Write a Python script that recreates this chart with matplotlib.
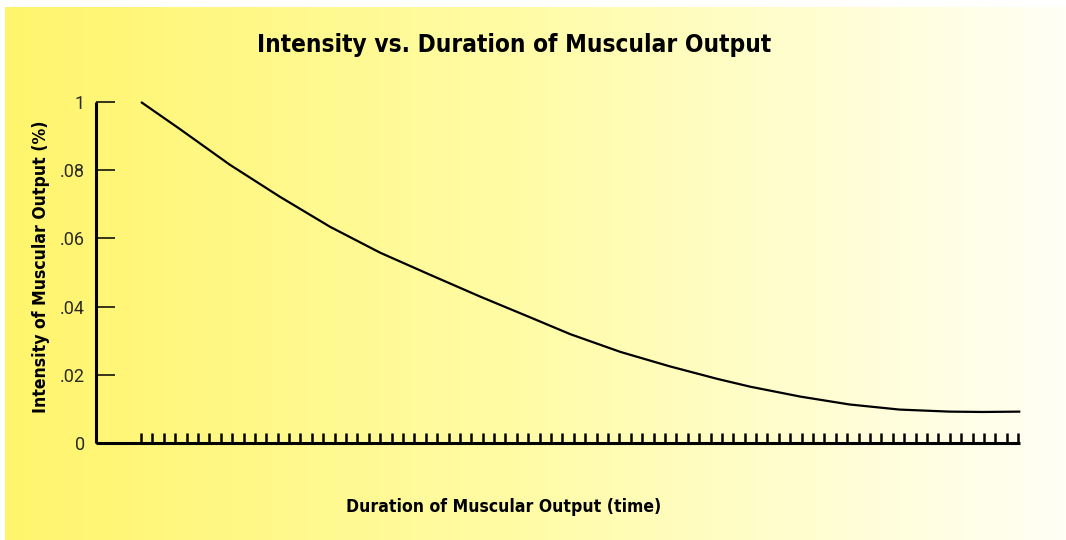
import numpy as np
import matplotlib
matplotlib.use("Agg")
import matplotlib.pyplot as plt
from matplotlib import font_manager
from matplotlib.colors import LinearSegmentedColormap

# curve (time in tick units, intensity)
time = [0, 3.4, 7.8, 12.2, 16.6, 21.0, 25.4, 29.8, 34.2, 37.7, 42.1,
        46.4, 50.6, 53.5, 57.9, 62.2, 66.6, 71.0, 73.9, 77.2]
intensity = [0.100, 0.0921, 0.0816, 0.0722, 0.0634, 0.0558, 0.0493, 0.0429,
             0.0368, 0.0319, 0.0267, 0.0225, 0.0188, 0.0165, 0.0136, 0.0113,
             0.0098, 0.0092, 0.0091, 0.0092]

y_ticks = [0, 0.02, 0.04, 0.06, 0.08, 0.10]
y_tick_labels = ["0", ".02", ".04", ".06", ".08", "1"]
n_time_ticks = 78

title = "Intensity vs. Duration of Muscular Output"
xlabel = "Duration of Muscular Output (time)"
ylabel = "Intensity of Muscular Output (%)"

# narrow bold font if one is there
fp = font_manager.FontProperties(family="DejaVu Sans", stretch="condensed", weight="bold")
if "Condensed" in font_manager.findfont(fp, fallback_to_default=False):
    head = dict(family="DejaVu Sans", fontstretch="condensed", fontweight="bold")
    scale = 1.0
else:
    head = dict(family="Roboto", fontweight="bold")
    scale = 0.92
plt.rcParams['font.family'] = ['Roboto', 'DejaVu Sans']

fig = plt.figure(figsize=(10.66, 5.4), dpi=100)
fig.patch.set_facecolor("white")

# yellow-to-white background
bg = fig.add_axes([5 / 1066, 0, 1 - 5 / 1066, 1 - 7 / 540])
cmap = LinearSegmentedColormap.from_list("bg", ["#fff56c", "#fffca8", "#fffff5"])
grad = np.linspace(0, 1, 512).reshape(1, -1)
bg.imshow(grad, aspect="auto", cmap=cmap, extent=[0, 1, 0, 1])
bg.set_axis_off()

ax = fig.add_axes([96 / 1066, 1 - 443 / 540, (1020 - 96) / 1066, (443 - 102) / 540])
ax.patch.set_alpha(0)
ax.plot(time, intensity, color="black", lw=1.6, solid_capstyle="butt",
        solid_joinstyle="round", clip_on=False)

ax.set_xlim(-3.95, 77.17)
ax.set_ylim(0, 0.10)

for s in ["top", "right"]:
    ax.spines[s].set_visible(False)
for s in ["left", "bottom"]:
    ax.spines[s].set_linewidth(2.2)
    ax.spines[s].set_capstyle("butt")

ax.set_yticks(y_ticks)
ax.set_yticklabels(y_tick_labels)
ax.tick_params(axis="y", direction="in", length=14, width=1.1, pad=8,
               labelsize=13, labelcolor="#2a2a2a")
ax.set_xticks(np.arange(n_time_ticks))
ax.tick_params(axis="x", direction="in", length=7, width=1.8, labelbottom=False)

fig.text(0.482, 0.917, title, ha="center", va="center", fontsize=17.5 * scale, **head)
fig.text(0.472, 0.061, xlabel, ha="center", va="center", fontsize=12.6 * scale, **head)
fig.text(0.038, 0.506, ylabel, ha="center", va="center", rotation=90,
         fontsize=12.6 * scale, **head)

fig.savefig("out.png", dpi=100)
